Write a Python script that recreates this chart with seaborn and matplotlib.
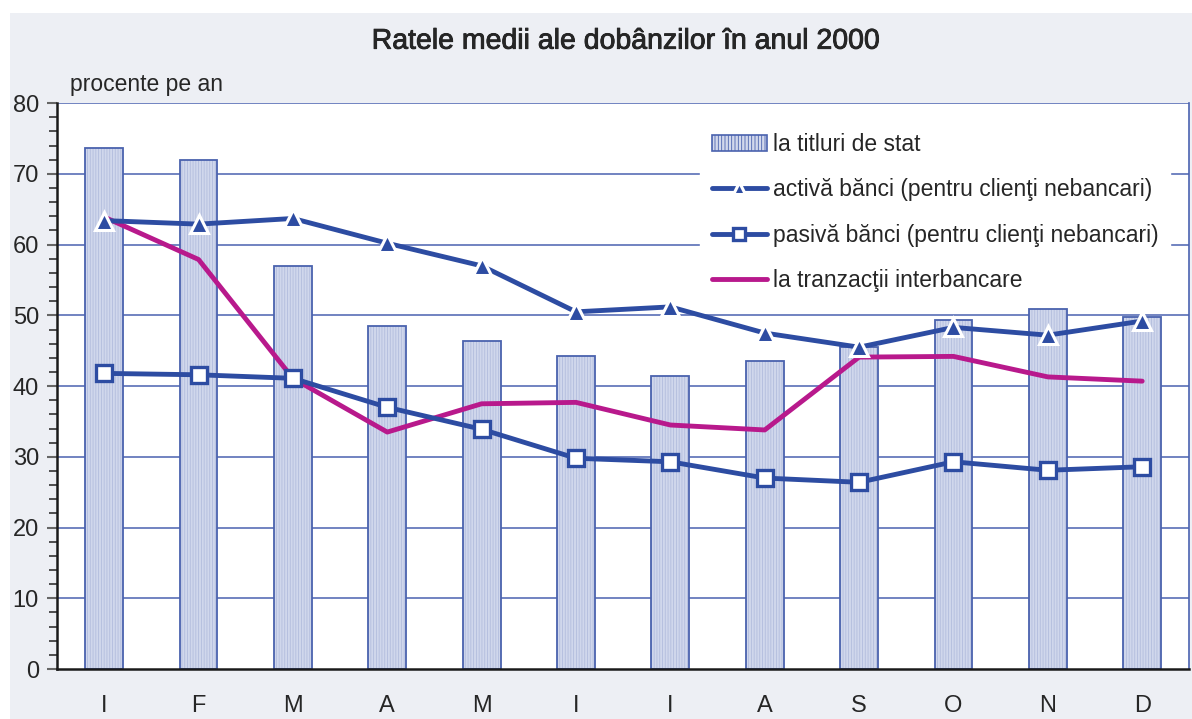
import numpy as np
import pandas as pd
import matplotlib
matplotlib.use('Agg')
import matplotlib.pyplot as plt
import matplotlib.patheffects as pe
from matplotlib.patches import Patch, Rectangle
import seaborn as sns

# date
luni = ['I', 'F', 'M', 'A', 'M', 'I', 'I', 'A', 'S', 'O', 'N', 'D']
titluri_stat = [73.6, 71.9, 57.0, 48.5, 46.4, 44.2, 41.4, 43.5, 45.5, 49.3, 50.9, 49.7]
activa_banci = [63.4, 62.9, 63.7, 60.2, 57.0, 50.5, 51.2, 47.5, 45.5, 48.3, 47.2, 49.2]
pasiva_banci = [41.8, 41.6, 41.1, 37.0, 33.9, 29.8, 29.3, 27.0, 26.4, 29.3, 28.1, 28.6]
interbancar = [63.9, 57.9, 41.1, 33.5, 37.5, 37.7, 34.5, 33.8, 44.1, 44.2, 41.3, 40.7]

serii = ['la titluri de stat',
         'activă bănci (pentru clienţi nebancari)',
         'pasivă bănci (pentru clienţi nebancari)',
         'la tranzacţii interbancare']

albastru = '#2d4ca2'
magenta = '#b8198c'
margine_bara = '#4a62ae'
fundal = '#edeff4'

sns.set_style('white')
plt.rcParams['font.family'] = ['Liberation Sans', 'DejaVu Sans']
plt.rcParams['hatch.linewidth'] = 0.6

df = pd.DataFrame({'idx': np.arange(len(luni)), 'luna': luni,
                   'titluri': titluri_stat, 'activa': activa_banci,
                   'pasiva': pasiva_banci, 'interbancar': interbancar})

fig = plt.figure(figsize=(11.92, 7.19), dpi=100)
fig.patch.set_facecolor('white')
# fundal gri cu margine alba sus si la stanga
fig.patches.append(Rectangle((10 / 1192, 0), 1, 1 - 13 / 719,
                             transform=fig.transFigure, facecolor=fundal,
                             edgecolor='none', zorder=-5))
ax = fig.add_axes([0.0478, 0.0695, 0.950, 0.787])
ax.set_facecolor('white')

# grila
for v in range(10, 81, 10):
    ax.axhline(v, color='#4a62b0', lw=1.1, zorder=0)

# bare: umplere hasurata + contur albastru
sns.barplot(data=df, x='idx', y='titluri', ax=ax, width=0.4,
            color='#d0d7ec', edgecolor='#b2bcdd', linewidth=0,
            saturation=1, zorder=2)
for p in ax.patches:
    p.set_hatch('||||||')
sns.barplot(data=df, x='idx', y='titluri', ax=ax, width=0.4, fill=False,
            edgecolor=margine_bara, linewidth=1.3, saturation=1, zorder=2)

# linii
sns.lineplot(data=df, x='idx', y='activa', ax=ax, color=albastru, lw=3.5,
             marker='^', markersize=13, markerfacecolor=albastru,
             markeredgecolor='white', markeredgewidth=2.2, label=serii[1], zorder=4)
sns.lineplot(data=df, x='idx', y='pasiva', ax=ax, color=albastru, lw=3.5,
             marker='s', markersize=12, markerfacecolor='white',
             markeredgecolor=albastru, markeredgewidth=2.4, label=serii[2], zorder=4)
sns.lineplot(data=df, x='idx', y='interbancar', ax=ax, color=magenta, lw=3.5,
             label=serii[3], zorder=3)

ax.set_xlim(-0.5, 11.5)
ax.set_ylim(0, 80)
ax.set_yticks(range(0, 81, 10))
ax.set_yticks(range(0, 81, 2), minor=True)
ax.set_xticks(range(len(luni)))
ax.set_xticklabels(luni)
ax.set_xlabel('')
ax.set_ylabel('')
ax.tick_params(axis='y', which='major', direction='out', length=7, width=1.5,
               color='#666666', labelsize=17, pad=6, left=True)
ax.tick_params(axis='y', which='minor', direction='out', length=6, width=1.2,
               color='#333333', left=True)
ax.tick_params(axis='x', length=0, labelsize=17, pad=19)

for side in ['left', 'bottom']:
    ax.spines[side].set_color('#1a1a1a')
    ax.spines[side].set_linewidth(1.8)
ax.spines['top'].set_visible(False)
ax.spines['right'].set_color('#4a62b0')
ax.spines['right'].set_linewidth(1.2)

# legenda, cu barele primele
h, l = ax.get_legend_handles_labels()
bara = Patch(facecolor='#d2d8ec', edgecolor=margine_bara, hatch='|||||', lw=1.2)
leg = ax.legend([bara] + h, [serii[0]] + l, loc='upper left',
                bbox_to_anchor=(0.558, 0.988), fontsize=16.5,
                frameon=True, facecolor='white', edgecolor='white',
                framealpha=1, handlelength=2.4, labelspacing=0.98,
                handletextpad=0.25, borderpad=0.5)
leg.set_zorder(5)
for hh in leg.legend_handles:
    if hasattr(hh, 'set_markersize'):
        hh.set_markersize(8)

fig.text(0.525, 0.942, 'Ratele medii ale dobânzilor în anul 2000',
         ha='center', va='center', fontsize=20.5,
         path_effects=[pe.withStroke(linewidth=0.6, foreground='#1a1a1a')])
fig.text(0.059, 0.883, 'procente pe an', ha='left', va='center', fontsize=16.5)

fig.savefig('out.png', dpi=100, facecolor='white')
